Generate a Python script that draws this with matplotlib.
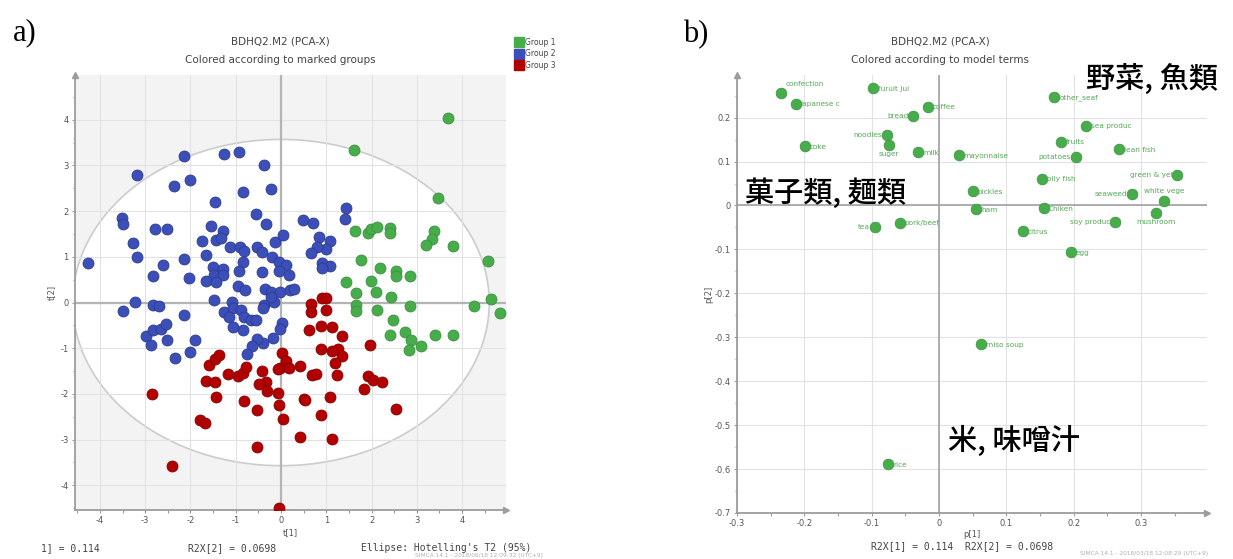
import numpy as np
import matplotlib.pyplot as plt
from matplotlib.patches import Ellipse
from matplotlib.lines import Line2D
from matplotlib.ticker import MultipleLocator, FuncFormatter

plt.rcParams['axes.unicode_minus'] = False

# ---- a) scores, three marked groups ----
g1_t1 = [3.69, 1.61, 3.46, 1.64, 1.92, 1.99, 2.13, 2.41, 2.41, 3.39, 3.33, 3.20, 3.80, 1.76,
         2.19, 2.54, 2.54, 2.84, 1.44, 1.98, 2.09, 1.65, 2.43, 1.66, 1.66, 2.11, 2.86, 4.57,
         4.63, 4.26, 4.83, 2.48, 2.40, 2.75, 2.87, 2.83, 3.10, 3.41, 3.79]
g1_t2 = [4.03, 3.34, 2.29, 1.56, 1.53, 1.61, 1.65, 1.64, 1.53, 1.56, 1.38, 1.25, 1.23, 0.94,
         0.76, 0.69, 0.58, 0.59, 0.45, 0.47, 0.24, 0.22, 0.12, -0.05, -0.18, -0.16, -0.08, 0.92,
         0.08, -0.08, -0.23, -0.39, -0.72, -0.64, -0.83, -1.03, -0.94, -0.72, -0.72]

g2_t1 = [-3.18, -2.15, -1.26, -0.93, -0.37, -2.36, -2.00, -0.84, -0.23, -1.45, -3.52, -3.50,
         -0.56, -0.33, -2.78, -2.52, -1.54, -1.27, -3.27, -1.74, -1.43, -1.33, -1.13, -0.90,
         -0.82, -0.52, -0.43, -0.14, 0.04, -3.17, -4.27, -2.60, -2.15, -1.65, -0.84, -0.20,
         -0.04, 0.10, -2.82, -2.04, -1.50, -1.29, -1.47, -1.27, -0.92, -0.41, -0.05, 0.18,
         -1.66, -1.44, -0.95, -0.80, -0.36, -0.22, -0.02, 0.20, -3.23, -2.82, -2.70, -1.47,
         -1.08, -0.38, -0.15, 1.44, 1.42, 0.49, 0.71, 0.84, 1.09, 0.99, 0.80, 0.66, 0.91,
         1.09, 0.91, 0.28, -3.50, -2.15, -2.99, -2.83, -2.65, -2.53, -2.88, -2.51, -1.90,
         -2.02, -2.35, -1.26, -1.05, -1.15, -0.89, -0.82, -1.07, -0.83, -0.67, -0.56, -0.39,
         -0.21, -0.18, -0.40, -0.53, -0.65, -0.75, 0.03, -0.03]
g2_t2 = [2.80, 3.20, 3.25, 3.30, 3.00, 2.56, 2.69, 2.42, 2.48, 2.20, 1.85, 1.72,
         1.93, 1.73, 1.61, 1.61, 1.67, 1.56, 1.30, 1.34, 1.36, 1.42, 1.22, 1.22,
         1.12, 1.22, 1.11, 1.32, 1.48, 1.00, 0.87, 0.83, 0.95, 1.03, 0.88, 0.99,
         0.89, 0.83, 0.59, 0.53, 0.77, 0.73, 0.61, 0.60, 0.68, 0.66, 0.68, 0.61,
         0.48, 0.45, 0.37, 0.28, 0.30, 0.24, 0.23, 0.28, 0.02, -0.05, -0.07, 0.06,
         0.02, -0.05, 0.02, 2.08, 1.82, 1.81, 1.75, 1.44, 1.35, 1.18, 1.22, 1.09, 0.86,
         0.80, 0.75, 0.29, -0.18, -0.28, -0.74, -0.59, -0.57, -0.47, -0.92, -0.83, -0.81,
         -1.09, -1.21, -0.20, -0.13, -0.31, -0.17, -0.31, -0.53, -0.60, -0.39, -0.39, -0.13,
         0.12, -0.77, -0.88, -0.80, -0.95, -1.13, -0.45, -0.58]

g3_t1 = [0.90, 1.00, 0.66, 0.66, 0.99, 0.61, 0.88, 1.12, 1.35, 1.96, 0.03, 0.88, 1.12, 1.27,
         1.34, 1.20, 0.11, -0.02, 0.18, 0.42, 0.69, 0.78, 1.24, 1.92, 2.04, 2.24, 1.84, -0.07,
         -0.05, 0.51, 0.54, 1.08, 0.05, 0.88, 2.53, 0.42, 1.12, -0.05, -1.58, -1.45, -1.37,
         -1.66, -1.46, -1.18, -0.95, -0.85, -0.77, -1.44, -2.86, -1.78, -1.68, -0.82, -0.54,
         -0.42, -0.34, -0.48, -0.32, -0.07, -0.53, -2.41]
g3_t2 = [0.09, 0.10, -0.03, -0.20, -0.16, -0.60, -0.51, -0.54, -0.74, -0.92, -1.10, -1.01,
         -1.05, -1.02, -1.18, -1.32, -1.29, -1.44, -1.44, -1.39, -1.59, -1.56, -1.58, -1.61,
         -1.69, -1.74, -1.89, -1.98, -2.25, -2.11, -2.14, -2.07, -2.55, -2.46, -2.34, -2.94,
         -2.98, -4.49, -1.36, -1.24, -1.15, -1.72, -1.74, -1.57, -1.61, -1.55, -1.40, -2.06,
         -2.00, -2.57, -2.64, -2.16, -2.36, -1.49, -1.74, -1.79, -1.94, -1.45, -3.16, -3.57]

group_names = ['Group 1', 'Group 2', 'Group 3']

# ---- b) loadings, food items ----
foods = ['confection', 'Japanese c', 'furuit jui', 'coffee', 'bread', 'noodles', 'suger',
         'coke', 'milk', 'mayonnaise', 'other_seaf', 'sea produc', 'fruits', 'potatoes',
         'lean fish', 'green & yel', 'white vege', 'seaweed', 'mushroom', 'soy produc',
         'oily fish', 'pickles', 'ham', 'Chiken', 'citrus', 'egg', 'pork/beef', 'tea',
         'miso soup', 'rice']
p1 = [-0.2345, -0.213, -0.098, -0.0165, -0.038, -0.0775, -0.074, -0.199, -0.031, 0.029,
      0.1715, 0.218, 0.181, 0.203, 0.267, 0.3535, 0.3345, 0.286, 0.3225, 0.262,
      0.1535, 0.0505, 0.0555, 0.156, 0.1245, 0.1955, -0.058, -0.0955, 0.063, -0.0755]
p2 = [0.257, 0.232, 0.267, 0.225, 0.204, 0.160, 0.137, 0.135, 0.121, 0.115,
      0.247, 0.182, 0.145, 0.111, 0.128, 0.070, 0.011, 0.026, -0.017, -0.038,
      0.061, 0.032, -0.009, -0.006, -0.058, -0.107, -0.039, -0.049, -0.315, -0.589]

# where each food label sits relative to its point (style only)
label_side = {'bread': 'l', 'noodles': 'l', 'potatoes': 'l', 'green & yel': 'l',
              'seaweed': 'l', 'soy produc': 'l', 'tea': 'l', 'suger': 'b',
              'mushroom': 'b', 'confection': 't', 'white vege': 'tc'}

green, green_e = '#46ad4a', '#3a9140'
blue, blue_e = '#3c4fb8', '#2c3b92'
red, red_e = '#b20000', '#8a0000'
tick_c = '#555555'
spine_c = '#9c9c9c'
mono = 'DejaVu Sans Mono'

fig = plt.figure(figsize=(12.33, 5.59), dpi=100)
W, H = 1233, 559


def box(x0, y0, x1, y1):
    return [x0 / W, 1 - y1 / H, (x1 - x0) / W, (y1 - y0) / H]


def style_axes(ax, facecolor):
    ax.set_facecolor(facecolor)
    for s in ['top', 'right']:
        ax.spines[s].set_visible(False)
    for s in ['left', 'bottom']:
        ax.spines[s].set_color(spine_c)
        ax.spines[s].set_linewidth(1.3)
    ax.tick_params(which='both', colors=spine_c, labelcolor=tick_c, labelsize=6,
                   length=2.5, width=0.8, pad=2)
    ax.tick_params(which='minor', length=1.8)
    ax.grid(True, which='major', color='#e2e2e2', lw=0.8)
    ax.set_axisbelow(True)
    # arrow heads on the axes
    ax.plot(0, 1, marker='^', color=spine_c, ms=4, transform=ax.transAxes, clip_on=False)
    ax.plot(1, 0, marker='>', color=spine_c, ms=4, transform=ax.transAxes, clip_on=False)


# ================= a) =================
ax1 = fig.add_axes(box(75, 75, 506, 510))
style_axes(ax1, '#f3f3f3')
ax1.add_patch(Ellipse((0, 0), 2 * 4.6, 2 * 3.57, facecolor='white', edgecolor='#cccccc',
                      lw=1.2, zorder=0.3))
ax1.axhline(0, color='#b4b4b4', lw=1.6, zorder=0.6)
ax1.axvline(0, color='#b4b4b4', lw=1.6, zorder=0.6)
ax1.scatter(g1_t1, g1_t2, s=62, c=green, edgecolors=green_e, linewidths=0.6, zorder=3)
ax1.scatter(g2_t1, g2_t2, s=62, c=blue, edgecolors=blue_e, linewidths=0.6, zorder=3)
ax1.scatter(g3_t1, g3_t2, s=62, c=red, edgecolors=red_e, linewidths=0.6, zorder=3)
ax1.set_xlim(-4.55, 4.97)
ax1.set_ylim(-4.54, 4.98)
ax1.xaxis.set_major_locator(MultipleLocator(1))
ax1.yaxis.set_major_locator(MultipleLocator(1))
ax1.xaxis.set_minor_locator(MultipleLocator(0.5))
ax1.yaxis.set_minor_locator(MultipleLocator(0.5))
ax1.xaxis.set_major_formatter(FuncFormatter(lambda v, p: '%g' % v))
ax1.yaxis.set_major_formatter(FuncFormatter(lambda v, p: '%g' % v))
ax1.set_xlabel('t[1]', fontsize=6, color=tick_c, labelpad=2)
ax1.set_ylabel('t[2]', fontsize=6, color=tick_c, labelpad=3)

fig.text(280 / W, 1 - 42 / H, 'BDHQ2.M2 (PCA-X)', ha='center', va='center',
         fontsize=7.5, color='#444444')
fig.text(280 / W, 1 - 60 / H, 'Colored according to marked groups', ha='center',
         va='center', fontsize=7.5, color='#444444')
handles = [Line2D([], [], marker='s', ls='', ms=7, mfc=c, mec=c)
           for c in [green, blue, red]]
fig.legend(handles, group_names, loc='upper left', bbox_to_anchor=(512 / W, 1 - 34 / H),
           frameon=False, fontsize=5.5, handlelength=0.9, handletextpad=0.3,
           labelspacing=0.35, borderpad=0, labelcolor='#444444')

fig.text(25 / W, 1 - 33 / H, 'a)', ha='center', va='center', fontsize=22,
         family='Liberation Serif')
fig.text(41 / W, 1 - 548 / H, '1] = 0.114', ha='left', va='center', fontsize=7,
         family=mono, color='#444444')
fig.text(188 / W, 1 - 548 / H, 'R2X[2] = 0.0698', ha='left', va='center', fontsize=7,
         family=mono, color='#444444')
fig.text(361 / W, 1 - 548 / H, "Ellipse: Hotelling's T2 (95%)", ha='left', va='center',
         fontsize=7, family=mono, color='#444444')
fig.text(415 / W, 1 - 555 / H, 'SIMCA 14.1 - 2018/06/18 12:09:32 (UTC+9)', ha='left',
         va='center', fontsize=4.2, color='#b0b0b0')

# ================= b) =================
ax2 = fig.add_axes(box(737, 75, 1207, 513))
style_axes(ax2, 'white')
ax2.axhline(0, color='#a8a8a8', lw=1.3, zorder=0.6)
ax2.axvline(0, color='#a8a8a8', lw=1.3, zorder=0.6)
ax2.scatter(p1, p2, s=60, c=green, edgecolors=green_e, linewidths=0.5, zorder=3)
for name, x, y in zip(foods, p1, p2):
    side = label_side.get(name, 'r')
    if side == 'l':
        off, ha, va = (-3.5, 0), 'right', 'center'
    elif side == 'b':
        off, ha, va = (0, -6.5), 'center', 'center'
    elif side == 't':
        off, ha, va = (3, 6.5), 'left', 'center'
    elif side == 'tc':
        off, ha, va = (0, 7), 'center', 'center'
    else:
        off, ha, va = (3.5, -0.5), 'left', 'center'
    ax2.annotate(name, (x, y), xytext=off, textcoords='offset points', ha=ha, va=va,
                 fontsize=5.3, color='#55a858', zorder=4)
ax2.set_xlim(-0.3, 0.398)
ax2.set_ylim(-0.7, 0.297)
ax2.xaxis.set_major_locator(MultipleLocator(0.1))
ax2.yaxis.set_major_locator(MultipleLocator(0.1))
ax2.xaxis.set_minor_locator(MultipleLocator(0.05))
ax2.yaxis.set_minor_locator(MultipleLocator(0.05))
ax2.xaxis.set_major_formatter(FuncFormatter(lambda v, p: '%g' % round(v, 2)))
ax2.yaxis.set_major_formatter(FuncFormatter(lambda v, p: '%g' % round(v, 2)))
ax2.set_xlabel('p[1]', fontsize=6, color=tick_c, labelpad=1)
ax2.set_ylabel('p[2]', fontsize=6, color=tick_c, labelpad=1)

cjk = ['Noto Sans CJK JP', 'DejaVu Sans']
ax2.text(0.316, 0.287, '野菜, 魚類', ha='center', va='center', fontsize=21,
         family=cjk, weight='medium', clip_on=False, zorder=5)
ax2.text(-0.168, 0.028, '菓子類, 麺類', ha='center', va='center', fontsize=21,
         family=cjk, weight='medium', zorder=5)
ax2.text(0.111, -0.537, '米, 味噌汁', ha='center', va='center', fontsize=21,
         family=cjk, weight='medium', zorder=5)

fig.text(940 / W, 1 - 42 / H, 'BDHQ2.M2 (PCA-X)', ha='center', va='center',
         fontsize=7.5, color='#444444')
fig.text(940 / W, 1 - 60 / H, 'Colored according to model terms', ha='center',
         va='center', fontsize=7.5, color='#444444')
fig.text(696 / W, 1 - 35 / H, 'b)', ha='center', va='center', fontsize=22,
         family='Liberation Serif')
fig.text(962 / W, 1 - 546 / H, 'R2X[1] = 0.114  R2X[2] = 0.0698', ha='center',
         va='center', fontsize=7, family=mono, color='#444444')
fig.text(1080 / W, 1 - 553 / H, 'SIMCA 14.1 - 2018/03/18 12:08:29 (UTC+9)', ha='left',
         va='center', fontsize=4.2, color='#b0b0b0')

fig.savefig('out.png', dpi=100)
